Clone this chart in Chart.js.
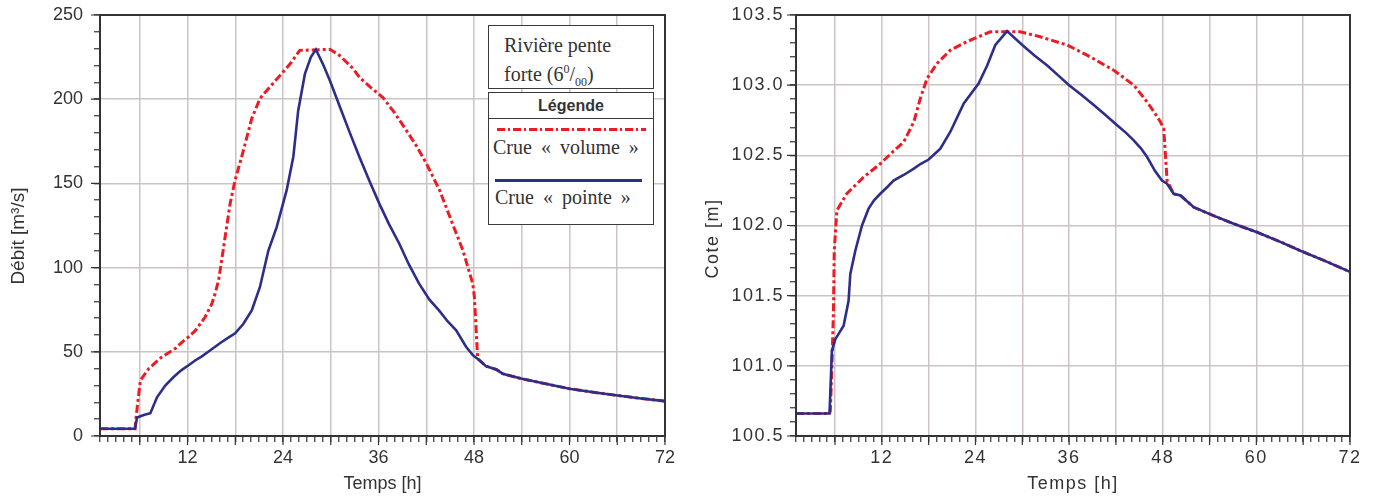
<!DOCTYPE html>
<html>
<head>
<meta charset="utf-8">
<script src="https://cdn.jsdelivr.net/npm/chart.js@4"></script>
<style>
  body { margin: 0; background: #fff; }
  #page { position: relative; width: 1375px; height: 497px; overflow: hidden; }
  .bloc { position: absolute; top: 0; }
  .cadre { position: absolute; background: #fff; border: 1.5px solid #3a3a3a; box-sizing: border-box; color: #333; }
  .serif { font-family: "Liberation Serif", "Times New Roman", serif; font-size: 20px; }
</style>
</head>
<body>
<div id="page">
  <div class="bloc" style="left:0;width:680px;height:497px"><canvas id="debitChart" width="680" height="497"></canvas></div>
  <div class="bloc" style="left:690px;width:685px;height:497px"><canvas id="coteChart" width="685" height="497"></canvas></div>

  <!-- encadre titre + legende du graphe de gauche -->
  <div class="cadre serif" style="left:488px;top:25px;width:166px;height:64px;padding:7px 0 0 15px;line-height:24px">
    Rivière pente<br>forte (6<sup style="font-size:12px">0</sup>/<sub style="font-size:12px">00</sub>)
  </div>
  <div class="cadre" style="left:488px;top:92px;width:166px;height:133px">
    <div style="height:25px;border-bottom:1.5px solid #3a3a3a;text-align:center;font:bold 16px 'Liberation Sans', Arial, sans-serif;line-height:25px">Légende</div>
    <div style="position:absolute;left:8px;top:35px;width:149px;height:3px;background:repeating-linear-gradient(90deg,#ed1c24 0 8px,transparent 8px 11px,#ed1c24 11px 13px,transparent 13px 16px)"></div>
    <div class="serif" style="position:absolute;left:4px;top:43px;white-space:nowrap;word-spacing:4px">Crue « volume »</div>
    <div style="position:absolute;left:6px;top:86px;width:147px;height:2.5px;background:#2d2e8a"></div>
    <div class="serif" style="position:absolute;left:6px;top:93px;white-space:nowrap;word-spacing:4px">Crue « pointe »</div>
  </div>
</div>

<script>
// Debit - crue "pointe"
const debitPointeT = [1, 5.4, 5.66, 6.5, 7.33, 8.16, 9.2, 10.25, 11.2, 12.13, 13, 13.8, 14.6, 15.47, 16.2, 16.94, 17.98, 19, 20.07, 21.1, 22.15, 23.2, 24.46, 25.3, 25.9, 26.75, 27.5, 28.13, 29, 29.9, 31.14, 32.4, 33.6, 34.9, 36.1, 37.3, 38.6, 39.8, 41.1, 42.4, 43.6, 44.7, 45.76, 47, 47.85, 48.68, 49.5, 50.8, 51.6, 53.9, 57, 60, 63, 65.8, 69, 72];
const debitPointeQ = [4.3, 4.3, 11, 12.5, 13.5, 23, 30, 35, 39, 42, 45, 47.3, 50, 53, 55.5, 57.8, 61, 66.5, 74.6, 88.5, 110, 124, 146, 166, 193, 215, 225, 229.5, 221, 211, 195.5, 180, 165.7, 151, 138, 126, 114.3, 102, 90.5, 81, 74.6, 68, 62.8, 53, 48, 45, 41.5, 39.5, 37, 34.1, 31, 28.1, 26, 24.2, 22.3, 20.7];

// Debit - crue "volume"
const debitVolumeT = [1, 5.4, 5.53, 6.07, 7.11, 8.79, 10.46, 11.5, 12.13, 12.96, 14.2, 15.06, 15.47, 15.9, 16.1, 16.72, 17.35, 17.98, 18.8, 20.07, 21.1, 22.3, 23.6, 24.9, 26.1, 29.9, 31.1, 32.8, 33.6, 35, 36.56, 38, 39.5, 40.8, 42, 43.67, 45.3, 46.6, 47.84, 48.05, 48.27, 48.46, 48.68, 49.5, 50.8, 51.6, 53.9, 57, 60, 63, 65.8, 69, 72];
const debitVolumeQ = [4.3, 4.3, 11, 33, 40, 47, 52, 56.5, 58.8, 62.5, 70.5, 78.6, 84.6, 92.5, 98.4, 118, 138, 152, 165.7, 188.5, 200.4, 207, 214, 221, 229, 229.6, 226, 218.2, 213, 207, 201, 192, 181.5, 172, 162, 146, 126, 110.3, 90.5, 82.5, 63, 46, 45, 41.5, 39.5, 37, 34.1, 31, 28.1, 26, 24.2, 22.3, 20.7];

// Cote - crue "pointe"
const cotePointeT = [1, 5.3, 5.6, 6.04, 7.1, 7.74, 7.96, 8.6, 9.46, 10.3, 11, 11.8, 12.8, 13.5, 14.8, 16.1, 17, 18, 19.5, 20.8, 22.5, 24.4, 25.5, 26.55, 28.05, 30, 31.6, 33.2, 34.6, 36, 37.6, 39.2, 40.7, 42.15, 43.3, 44.28, 45.2, 46, 47, 47.9, 48.56, 49.4, 50.27, 51.97, 54.5, 57.1, 60.1, 63, 65.65, 68.7, 72];
const cotePointeZ = [100.66, 100.66, 101.107, 101.19, 101.286, 101.464, 101.655, 101.82, 102.0, 102.12, 102.18, 102.226, 102.28, 102.32, 102.36, 102.405, 102.44, 102.47, 102.548, 102.67, 102.87, 103.012, 103.14, 103.286, 103.385, 103.286, 103.21, 103.14, 103.07, 103.0, 102.93, 102.857, 102.785, 102.714, 102.66, 102.607, 102.55, 102.488, 102.39, 102.32, 102.298, 102.226, 102.214, 102.13, 102.07, 102.012, 101.952, 101.885, 101.82, 101.75, 101.67];

// Cote - crue "volume"
const coteVolumeT = [1, 5.3, 5.4, 5.6, 5.8, 5.9, 6.24, 7.5, 9.67, 11.8, 13.5, 14.8, 16.1, 16.93, 17.8, 19.08, 20.8, 22.9, 25.9, 29.75, 32.3, 35.75, 38.3, 41.7, 44.3, 46, 47, 47.7, 48.13, 48.35, 48.56, 49.4, 50.27, 51.97, 54.5, 57.1, 60.1, 63, 65.65, 68.7, 72];
const coteVolumeZ = [100.66, 100.66, 100.68, 100.99, 101.39, 101.82, 102.107, 102.226, 102.345, 102.44, 102.53, 102.595, 102.738, 102.905, 103.048, 103.155, 103.25, 103.31, 103.38, 103.38, 103.345, 103.286, 103.214, 103.107, 103.0, 102.88, 102.8, 102.738, 102.69, 102.5, 102.32, 102.226, 102.214, 102.13, 102.07, 102.012, 101.952, 101.885, 101.82, 101.75, 101.67];

const BLEU = '#2d2e8a';
const ROUGE = '#ed1c24';
const GRILLE = '#ccc4c4';
const TRAIT = '#333';
const POLICE = "'Liberation Sans', Arial, sans-serif";

const points = (ts, vs) => ts.map((t, i) => ({ x: t, y: vs[i] }));
const estMultiple = (v, pas) => Math.abs(v / pas - Math.round(v / pas)) < 1e-6;

// cadre complet autour de la zone de trace + graduations principales plus longues
const cadre = {
  id: 'cadre',
  afterDraw(chart, args, opts) {
    const { ctx, chartArea: a, scales } = chart;
    ctx.save();
    ctx.strokeStyle = TRAIT;
    ctx.lineWidth = 1.2;
    ctx.beginPath();
    scales.x.ticks.forEach((t) => {
      if (t.value % 6 === 0) {
        const px = scales.x.getPixelForValue(t.value);
        ctx.moveTo(px, a.bottom);
        ctx.lineTo(px, a.bottom + 9);
      }
    });
    scales.y.ticks.forEach((t) => {
      if (estMultiple(t.value, opts.yMajor)) {
        const py = scales.y.getPixelForValue(t.value);
        ctx.moveTo(a.left, py);
        ctx.lineTo(a.left - 9, py);
      }
    });
    ctx.stroke();
    ctx.lineWidth = 2;
    ctx.strokeRect(a.left, a.top, a.right - a.left, a.bottom - a.top);
    ctx.restore();
  }
};

const espacement = {
  id: 'espacement',
  beforeUpdate(chart) { chart.ctx.letterSpacing = '1.5px'; },
  beforeDraw(chart) { chart.ctx.letterSpacing = '1.5px'; }
};

const renderChart = (id, cfg) => {
  const ctx = document.getElementById(id).getContext('2d');
  new Chart(ctx, {
    type: 'line',
    data: {
      datasets: [{
        label: 'Crue « pointe »',
        data: points(cfg.pointeT, cfg.pointeV),
        borderColor: BLEU,
        borderWidth: 2.6,
        pointRadius: 0,
        tension: 0
      }, {
        label: 'Crue « volume »',
        data: points(cfg.volumeT, cfg.volumeV),
        borderColor: ROUGE,
        borderWidth: 3,
        borderDash: [8, 3, 3, 3],
        pointRadius: 0,
        tension: 0
      }]
    },
    options: {
      responsive: false,
      animation: false,
      devicePixelRatio: 1,
      layout: { padding: { top: 15, right: cfg.padRight, bottom: 0, left: 0 } },
      plugins: { legend: { display: false }, tooltip: { enabled: false }, cadre: { yMajor: cfg.yMajor } },
      scales: {
        x: {
          type: 'linear',
          min: 1,
          max: 72,
          afterFit: (s) => { s.height = 61; },
          ticks: {
            stepSize: 1,
            autoSkip: false,
            maxRotation: 0,
            padding: 5,
            color: TRAIT,
            font: { family: POLICE, size: 18 },
            callback: (v) => (v % 12 === 0 ? String(v) : '')
          },
          grid: {
            color: (c) => (c.tick && c.tick.value % 6 === 0 ? GRILLE : 'rgba(0,0,0,0)'),
            lineWidth: 1.5,
            tickLength: 6,
            tickColor: TRAIT,
            tickWidth: 1.2
          },
          border: { color: TRAIT, width: 2 },
          title: {
            display: true,
            text: 'Temps [h]',
            color: TRAIT,
            font: { family: POLICE, size: 18 },
            padding: { top: 0, bottom: 2 }
          }
        },
        y: {
          min: cfg.yMin,
          max: cfg.yMax,
          afterFit: (s) => {
            s.width = cfg.yWidth;
            s.paddingTop = 0;
            s.paddingBottom = 0;
          },
          ticks: {
            stepSize: cfg.yMinor,
            autoSkip: false,
            padding: cfg.yPad,
            color: TRAIT,
            font: { family: POLICE, size: 18 },
            callback: (v) => (estMultiple(v, cfg.yMajor) ? cfg.format(v) : '')
          },
          grid: {
            color: (c) => (c.tick && estMultiple(c.tick.value, cfg.yMajor) ? GRILLE : 'rgba(0,0,0,0)'),
            lineWidth: 1.5,
            tickLength: 6,
            tickColor: TRAIT,
            tickWidth: 1.2
          },
          border: { color: TRAIT, width: 2 },
          title: {
            display: true,
            text: cfg.yTitle,
            color: TRAIT,
            font: { family: POLICE, size: cfg.titleSize },
            padding: { top: cfg.titlePad, bottom: 0 }
          }
        }
      }
    },
    plugins: cfg.spaced ? [cadre, espacement] : [cadre]
  });
};

renderChart('debitChart', {
  pointeT: debitPointeT, pointeV: debitPointeQ,
  volumeT: debitVolumeT, volumeV: debitVolumeQ,
  yMin: 0, yMax: 250, yMinor: 10, yMajor: 50,
  yTitle: 'Débit [m³/s]\u00a0\u00a0\u00a0\u00a0', titleSize: 19, yWidth: 100, yPad: 11, titlePad: 7,
  padRight: 14,
  format: (v) => String(v), spaced: false
});

renderChart('coteChart', {
  pointeT: cotePointeT, pointeV: cotePointeZ,
  volumeT: coteVolumeT, volumeV: coteVolumeZ,
  yMin: 100.5, yMax: 103.5, yMinor: 0.1, yMajor: 0.5,
  yTitle: 'Cote [m]\u00a0\u00a0\u00a0\u00a0', titleSize: 18, yWidth: 106, yPad: 6, titlePad: 12,
  padRight: 25,
  format: (v) => v.toFixed(1), spaced: true
});
</script>
</body>
</html>
